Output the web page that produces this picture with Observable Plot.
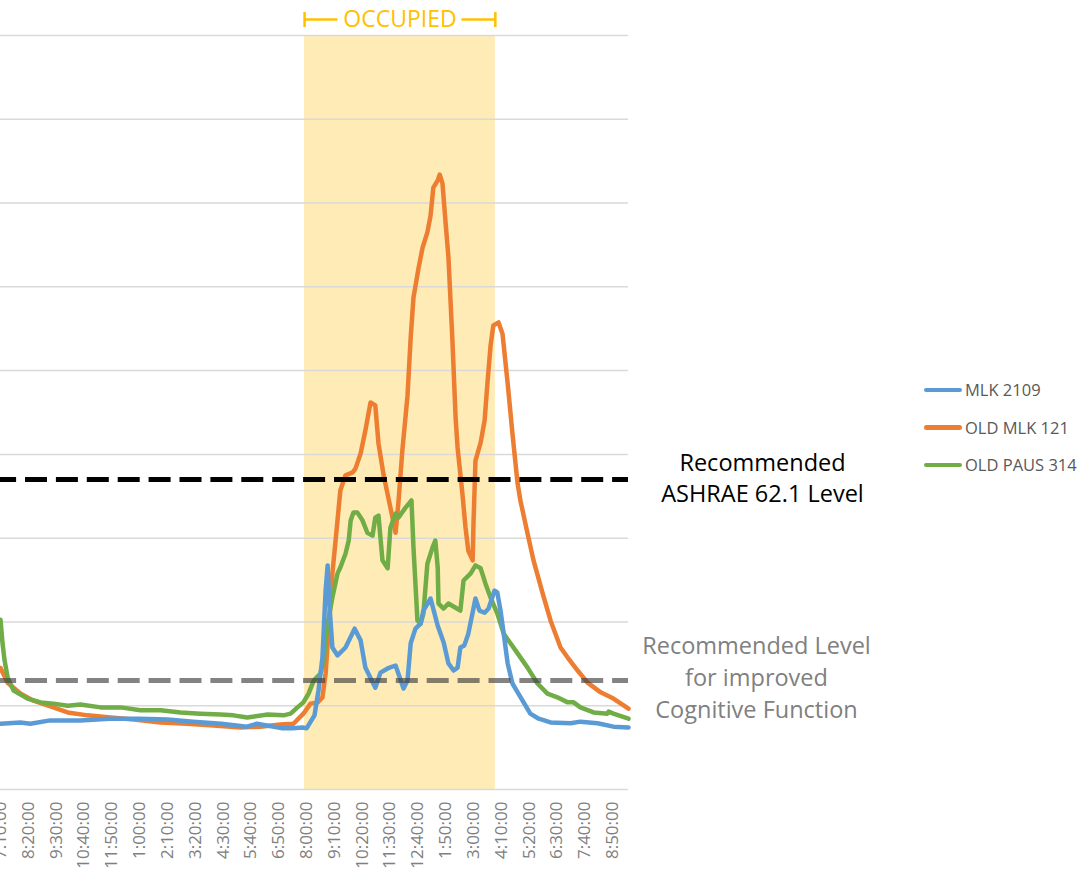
<!DOCTYPE html>
<html><head><meta charset="utf-8">
<script src="https://cdn.jsdelivr.net/npm/d3@7"></script>
<script src="https://cdn.jsdelivr.net/npm/@observablehq/plot@0.6"></script>
<style>
body{margin:0;background:#fff;overflow:hidden;font-family:"Open Sans",sans-serif}
#wrap{position:relative;width:1084px;height:873px}
#legend{position:absolute;left:924px;top:371px;font-size:16.5px;color:#595959;font-family:"Open Sans",sans-serif}
.row{display:flex;align-items:center;height:37.5px;white-space:nowrap}
.sw{width:38px;height:4.5px;border-radius:2.5px;margin-right:3px}
</style></head><body><div id="wrap"><div id="legend"></div></div>
<script>
// minutes after 7:10 PM (day 1)
const tickMinutes = [0,70,140,210,280,350,420,490,560,630,700,770,840,910,980,1050,1120,1190,1260,1330,1400,1470,1540];
const tickLabels = ["7:10:00","8:20:00","9:30:00","10:40:00","11:50:00","1:00:00","2:10:00","3:20:00","4:30:00","5:40:00","6:50:00","8:00:00","9:10:00","10:20:00","11:30:00","12:40:00","1:50:00","3:00:00","4:10:00","5:20:00","6:30:00","7:40:00","8:50:00"];

const seriesNames = ["MLK 2109","OLD MLK 121","OLD PAUS 314"];
const seriesColors = ["#5B9BD5","#ED7D31","#70AD47"];

const blueTime = [0,50,75,125,200,275,350,420,485,555,620,645,670,710,735,760,770,790,800,810,818,823,828,835,848,868,891,906,918,943,956,974,994,1014,1024,1032,1044,1057,1064,1082,1100,1115,1127,1140,1150,1157,1167,1177,1195,1205,1218,1228,1243,1250,1258,1266,1276,1288,1303,1321,1333,1354,1384,1434,1459,1502,1542,1580];
const blueValue = [457,460,457,465,465,469,469,467,462,457,450,457,453,446,446,448,446,477,536,615,775,835,734,639,620,639,684,656,591,543,579,589,596,541,560,649,684,696,727,756,691,651,601,584,591,639,644,672,756,727,722,732,775,770,727,672,601,553,529,500,481,469,460,458,462,458,450,448];

const orangeTime = [0,18,50,83,133,169,219,277,335,403,470,536,604,654,704,737,762,780,798,810,818,825,835,843,855,868,886,893,906,918,931,943,951,964,981,994,1001,1011,1024,1032,1039,1052,1062,1074,1082,1089,1100,1105,1112,1120,1127,1137,1145,1150,1162,1170,1177,1188,1190,1195,1208,1218,1225,1233,1240,1253,1263,1276,1288,1301,1308,1326,1341,1364,1384,1409,1427,1452,1477,1510,1542,1580];
const orangeValue = [590,555,529,512,496,484,477,472,467,460,457,453,448,450,455,457,481,505,508,520,577,672,816,894,1014,1050,1057,1066,1102,1157,1224,1217,1126,1050,973,913,983,1109,1240,1379,1474,1546,1594,1630,1670,1737,1754,1768,1747,1651,1570,1372,1188,1116,1007,925,870,847,935,1085,1128,1181,1269,1360,1408,1415,1388,1269,1150,1030,990,911,847,768,703,639,615,584,555,532,517,493];

const greenTime = [0,5,10,18,33,68,101,133,169,201,252,302,352,403,453,503,554,586,621,672,712,730,747,762,775,788,805,813,823,835,848,855,868,876,881,888,898,911,923,936,943,951,961,974,981,994,1001,1019,1034,1039,1049,1057,1064,1074,1087,1094,1100,1102,1115,1127,1145,1157,1165,1183,1195,1208,1220,1233,1250,1266,1283,1301,1326,1351,1376,1401,1427,1442,1459,1492,1527,1530,1542,1580];
const greenValue = [705,650,610,567,536,517,508,505,500,503,496,496,489,489,484,481,479,477,472,479,477,481,496,508,529,560,577,608,696,758,816,830,863,894,942,961,961,942,913,906,949,954,847,828,925,959,949,973,990,878,703,696,720,839,878,894,830,744,732,744,734,727,799,816,835,828,792,758,720,672,649,625,591,553,529,520,508,508,496,484,481,486,481,469];

const ashraeLevel = 1040;
const cognitiveLevel = 560;
const occupiedStart = 765;  // 7:55 AM
const occupiedEnd = 1245;   // 3:55 PM
const yTicks = [300,500,700,900,1100,1300,1500,1700,1900,2100];

const xMax = 1580, plotRight = 628;
const yTop = 2100, yBottom = 300;
const pxPerUnit = (789 - 35) / (yTop - yBottom);
const up = px => yTop + px / pxPerUnit;
const minPerPx = xMax / plotRight;

const toRows = (t, v) => t.map((d, i) => ({t: d, v: v[i]}));
const blueRows = toRows(blueTime, blueValue);
const orangeRows = toRows(orangeTime, orangeValue);
const greenRows = toRows(greenTime, greenValue);
const occupied = [{start: occupiedStart, end: occupiedEnd}];
const occMid = (occupiedStart + occupiedEnd) / 2;
const gapHalf = 62 * minPerPx;
const bracketSegs = [{a: occupiedStart, b: occMid - gapHalf}, {a: occMid + gapHalf, b: occupiedEnd}];

const lineOpts = (c) => ({x: "t", y: "v", stroke: c, strokeWidth: 4.5, strokeLinejoin: "round", strokeLinecap: "round"});

const chart = Plot.plot({
  width: 1084, height: 873,
  marginLeft: 0, marginRight: 1084 - plotRight, marginTop: 35, marginBottom: 84,
  style: {fontFamily: "Open Sans", background: "white"},
  x: {domain: [0, xMax]},
  y: {domain: [yBottom, yTop], axis: null},
  marks: [
    Plot.rect(occupied, {x1: "start", x2: "end", fill: "#FFEBB5"}),
    Plot.gridY(yTicks, {stroke: "#D9D9D9", strokeOpacity: 1, strokeWidth: 1.5}),
    Plot.axisX({ticks: tickMinutes, tickFormat: m => tickLabels[tickMinutes.indexOf(m)], tickRotate: -90, tickSize: 0, tickPadding: 12, fontSize: 17, fill: "#808080", label: null}),
    Plot.line(orangeRows, lineOpts(seriesColors[1])),
    Plot.line(greenRows, lineOpts(seriesColors[2])),
    Plot.line(blueRows, lineOpts(seriesColors[0])),
    Plot.ruleY([cognitiveLevel], {stroke: "#404040", strokeOpacity: 0.65, strokeWidth: 5, strokeDasharray: "22 8.9", strokeDashoffset: 5.9}),
    Plot.ruleY([ashraeLevel], {stroke: "black", strokeWidth: 5, strokeDasharray: "22 8.9", strokeDashoffset: 5.9}),
    Plot.text([ashraeLevel], {y: d => d, frameAnchor: "right", dx: 134, dy: -3, text: () => "Recommended\nASHRAE 62.1 Level", fontSize: 23.5, lineHeight: 1.34, fill: "black", textAnchor: "middle", lineAnchor: "middle"}),
    Plot.text([cognitiveLevel], {y: d => d, frameAnchor: "right", dx: 128, dy: -5, text: () => "Recommended Level\nfor improved\nCognitive Function", fontSize: 23.5, lineHeight: 1.36, fill: "#808080", textAnchor: "middle", lineAnchor: "middle"}),
    Plot.ruleY(bracketSegs, {x1: "a", x2: "b", y: () => up(16), stroke: "#FFC000", strokeWidth: 2.5}),
    Plot.ruleX([occupiedStart, occupiedEnd], {x: d => d, y1: () => up(8), y2: () => up(23), stroke: "#FFC000", strokeWidth: 2.5}),
    Plot.text(occupied, {x: () => occMid, frameAnchor: "top", dy: -16, text: () => "OCCUPIED", fontSize: 23, lineAnchor: "middle", fill: "#FFC000"})
  ]
});
document.getElementById("wrap").prepend(chart);

const legend = document.getElementById("legend");
seriesNames.forEach((n, i) => {
  const row = document.createElement("div");
  row.className = "row";
  row.innerHTML = `<span class="sw" style="background:${seriesColors[i]}"></span><span>${n}</span>`;
  legend.appendChild(row);
});
</script>
</body></html>
